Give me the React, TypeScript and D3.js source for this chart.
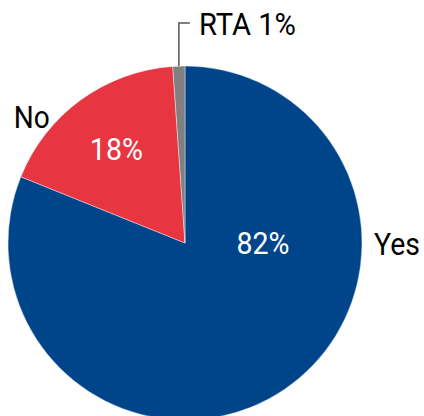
import React, { useEffect, useRef } from 'react';
import * as d3 from 'd3';

const categories = ['Yes', 'No', 'RTA'];
const values = [81.1, 17.8, 1.1];
const pctLabels = ['82%', '18%', '1%'];
const colors = ['#00458A', '#E83542', '#808080'];

const W = 424;
const H = 416;

export default function App() {
  const ref = useRef<SVGSVGElement>(null);

  useEffect(() => {
    if (!ref.current) return;
    const svg = d3.select(ref.current);
    svg.selectAll('*').remove();

    const cx = 185, cy = 243, r = 177;
    const g = svg.append('g').attr('transform', `translate(${cx},${cy})`);
    const font = 'Roboto, sans-serif';

    const pie = d3.pie<number>().sort(null).value(d => d);
    const arcs = pie(values);
    const arc = d3.arc<d3.PieArcDatum<number>>().innerRadius(0).outerRadius(r);

    g.selectAll('path.slice')
      .data(arcs)
      .enter()
      .append('path')
      .attr('class', 'slice')
      .attr('d', arc)
      .attr('fill', (_, i) => colors[i])
      .attr('stroke', '#fff')
      .attr('stroke-width', 0.4);

    // inside percentage labels (largest slice gets a horizontal placement)
    arcs.forEach((a, i) => {
      if (i === 2) return;
      const mid = i === 0 ? Math.PI / 2 : (a.startAngle + a.endAngle) / 2;
      const rr = i === 0 ? r * 0.44 : r * 0.66;
      g.append('text')
        .attr('x', Math.sin(mid) * rr)
        .attr('y', -Math.cos(mid) * rr)
        .attr('dy', '0.36em')
        .attr('text-anchor', 'middle')
        .attr('fill', '#fff')
        .attr('font-family', font)
        .attr('font-size', 31)
        .attr('textLength', 53)
        .attr('lengthAdjust', 'spacingAndGlyphs')
        .text(pctLabels[i]);
    });

    // outer category labels
    const yesA = Math.PI / 2;
    g.append('text')
      .attr('x', Math.sin(yesA) * (r + 12))
      .attr('y', 0)
      .attr('dy', '0.36em')
      .attr('fill', '#000')
      .attr('font-family', font)
      .attr('font-size', 32)
      .attr('textLength', 46)
      .attr('lengthAdjust', 'spacingAndGlyphs')
      .text(categories[0]);

    const noA = (313 * Math.PI) / 180;
    g.append('text')
      .attr('x', Math.sin(noA) * (r + 8))
      .attr('y', -Math.cos(noA) * (r + 8))
      .attr('dy', '0.36em')
      .attr('text-anchor', 'end')
      .attr('fill', '#000')
      .attr('font-family', font)
      .attr('font-size', 32)
      .attr('textLength', 36)
      .attr('lengthAdjust', 'spacingAndGlyphs')
      .text(categories[1]);

    // RTA leader line
    const rta = arcs[2];
    const ra = (rta.startAngle + rta.endAngle) / 2;
    const lx = Math.sin(ra) * r;
    const ly = -Math.cos(ra) * r;
    const topY = ly - 43;
    g.append('path')
      .attr('d', `M${lx},${ly}V${topY}H${lx + 11}`)
      .attr('fill', 'none')
      .attr('stroke', '#555')
      .attr('stroke-width', 1.5);
    g.append('text')
      .attr('x', lx + 20)
      .attr('y', topY)
      .attr('dy', '0.36em')
      .attr('fill', '#000')
      .attr('font-family', font)
      .attr('font-size', 32)
      .attr('textLength', 97)
      .attr('lengthAdjust', 'spacingAndGlyphs')
      .text(`${categories[2]} ${pctLabels[2]}`);
  }, []);

  return (
    <svg
      ref={ref}
      width={W}
      height={H}
      style={{ position: 'absolute', left: 0, top: 0, background: '#fff' }}
    />
  );
}
